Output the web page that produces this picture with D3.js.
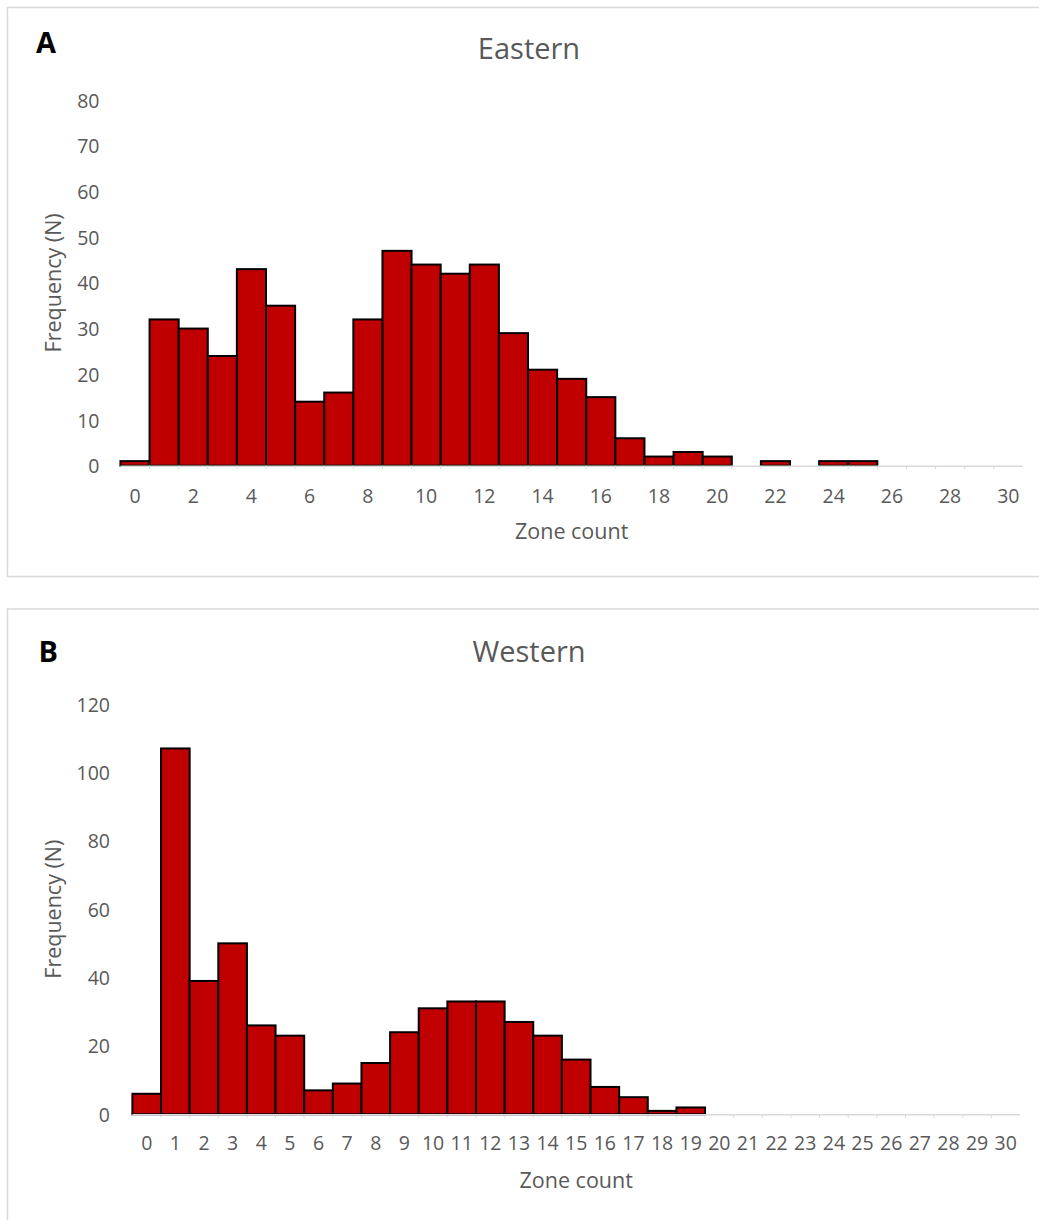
<!DOCTYPE html>
<html>
<head>
<meta charset="utf-8">
<script src="https://cdn.jsdelivr.net/npm/d3@7/dist/d3.min.js"></script>
<style>
  html, body { margin: 0; padding: 0; background: #ffffff; }
  svg { display: block; }
  text { font-family: "Open Sans", "Noto Sans", sans-serif; }
</style>
</head>
<body>
<svg id="chart" width="1039" height="1220"></svg>
<script>
// ---- data ----
const zoneCounts = [0,1,2,3,4,5,6,7,8,9,10,11,12,13,14,15,16,17,18,19,20,21,22,23,24,25,26,27,28,29,30];
const easternFreq = [1,32,30,24,43,35,14,16,32,47,44,42,44,29,21,19,15,6,2,3,2,0,1,0,1,1,0,0,0,0,0];
const westernFreq = [6,107,39,50,26,23,7,9,15,24,31,33,33,27,23,16,8,5,1,2,0,0,0,0,0,0,0,0,0,0,0];
const easternXTicks = [0,2,4,6,8,10,12,14,16,18,20,22,24,26,28,30];
const westernXTicks = [0,1,2,3,4,5,6,7,8,9,10,11,12,13,14,15,16,17,18,19,20,21,22,23,24,25,26,27,28,29,30];
const easternYTicks = [0,10,20,30,40,50,60,70,80];
const westernYTicks = [0,20,40,60,80,100,120];
const panelLetters = ["A", "B"];
const panelTitles = ["Eastern", "Western"];
const xAxisTitle = "Zone count";
const yAxisTitle = "Frequency (N)";

const svg = d3.select("#chart");
const textColor = "#595959";
const gridColor = "#d9d9d9";
const barColor = "#C00000";

const panels = [
  { letter: panelLetters[0], title: panelTitles[0], values: easternFreq, xTicks: easternXTicks, yTicks: easternYTicks,
    yMax: 80, box: {x: 7.5, y: 7.5, w: 1045, h: 569},
    plot: {left: 120.45, right: 1022.9, top: 100, bottom: 465.7},
    letterPos: {x: 36, y: 53.3}, titlePos: {x: 529, y: 59.3},
    yLabelRight: 99.5, yTitleX: 61, xTickY: 502.7, xTitleY: 539 },
  { letter: panelLetters[1], title: panelTitles[1], values: westernFreq, xTicks: westernXTicks, yTicks: westernYTicks,
    yMax: 120, box: {x: 7.5, y: 609, w: 1045, h: 640},
    plot: {left: 132.4, right: 1020, top: 704, bottom: 1114.3},
    letterPos: {x: 38.5, y: 661.7}, titlePos: {x: 529, y: 661.7},
    yLabelRight: 110, yTitleX: 61, xTickY: 1150, xTitleY: 1187.5 }
];

panels.forEach(p => {
  const g = svg.append("g");
  // panel border
  g.append("rect")
    .attr("x", p.box.x).attr("y", p.box.y)
    .attr("width", p.box.w).attr("height", p.box.h)
    .attr("fill", "#ffffff").attr("stroke", gridColor).attr("stroke-width", 1.5);

  const x = d3.scaleBand().domain(zoneCounts).range([p.plot.left, p.plot.right]).paddingInner(0).paddingOuter(0);
  const y = d3.scaleLinear().domain([0, p.yMax]).range([p.plot.bottom, p.plot.top]);

  // y tick labels
  const yAxis = d3.axisLeft(y).tickValues(p.yTicks).tickSize(0).tickPadding(0);
  const yg = g.append("g").attr("transform", `translate(${p.yLabelRight},0)`).call(yAxis);
  yg.select(".domain").remove();
  yg.selectAll("text")
    .attr("fill", textColor).attr("font-size", "19.5px")
    .attr("font-family", "Open Sans").attr("dy", "0.36em").attr("x", 0);

  // bars
  g.append("g").selectAll("rect")
    .data(zoneCounts.map((c, i) => ({c, v: p.values[i]})).filter(d => d.v > 0))
    .join("rect")
    .attr("x", d => x(d.c))
    .attr("y", d => y(d.v))
    .attr("width", x.bandwidth())
    .attr("height", d => y(0) - y(d.v))
    .attr("fill", barColor)
    .attr("stroke", "#000000")
    .attr("stroke-width", 2);

  // x axis line and small category-boundary ticks
  const boundaries = zoneCounts.slice(1).map(c => x(c));
  g.append("g").selectAll("line")
    .data(boundaries)
    .join("line")
    .attr("x1", d => d).attr("x2", d => d)
    .attr("y1", p.plot.bottom).attr("y2", p.plot.bottom + 3.5)
    .attr("stroke", gridColor).attr("stroke-width", 1);
  g.append("line")
    .attr("x1", p.plot.left).attr("x2", p.plot.right)
    .attr("y1", p.plot.bottom + 0.5).attr("y2", p.plot.bottom + 0.5)
    .attr("stroke", gridColor).attr("stroke-width", 1.5);

  // x tick labels
  const xAxis = d3.axisBottom(x).tickValues(p.xTicks).tickSize(0).tickPadding(0);
  const xg = g.append("g").attr("transform", `translate(0,${p.xTickY})`).call(xAxis);
  xg.select(".domain").remove();
  xg.selectAll("text")
    .attr("fill", textColor).attr("font-size", "19.5px")
    .attr("font-family", "Open Sans").attr("dy", "0").attr("y", 0);

  // axis titles
  g.append("text")
    .attr("x", (p.plot.left + p.plot.right) / 2).attr("y", p.xTitleY)
    .attr("text-anchor", "middle").attr("fill", textColor).attr("font-size", "21.5px")
    .text(xAxisTitle);
  g.append("text")
    .attr("transform", `translate(${p.yTitleX},${(p.plot.top + p.plot.bottom) / 2}) rotate(-90)`)
    .attr("text-anchor", "middle").attr("fill", textColor).attr("font-size", "21.5px")
    .text(yAxisTitle);

  // chart title
  g.append("text")
    .attr("x", p.titlePos.x).attr("y", p.titlePos.y)
    .attr("text-anchor", "middle").attr("fill", textColor).attr("font-size", "29px")
    .text(p.title);

  // panel letter
  g.append("text")
    .attr("x", p.letterPos.x).attr("y", p.letterPos.y)
    .attr("fill", "#000000").attr("font-size", "29px").attr("font-weight", "bold")
    .attr("font-family", "Liberation Sans, Arial, sans-serif")
    .text(p.letter);
});
</script>
</body>
</html>
